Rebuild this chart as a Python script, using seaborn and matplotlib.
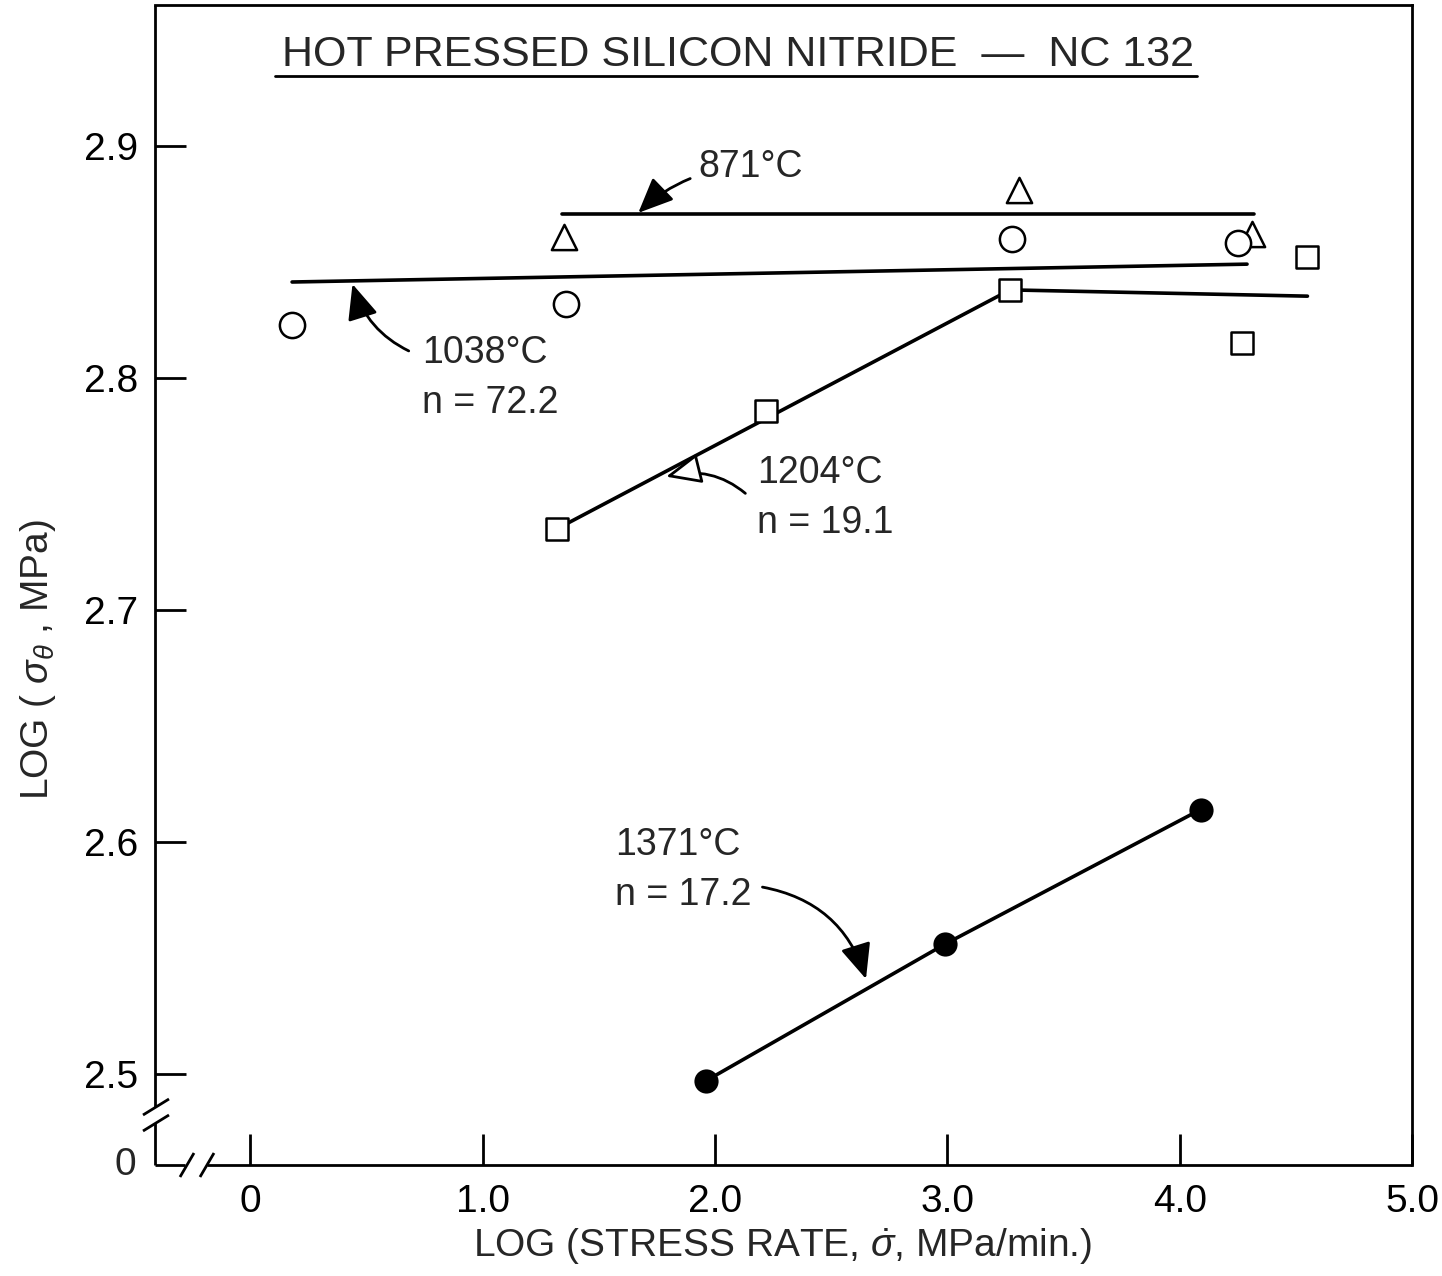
import numpy as np
import pandas as pd
import matplotlib
matplotlib.use("Agg")
import matplotlib.pyplot as plt
import seaborn as sns

# ---- data ----
tri_x = [1.35, 3.31, 4.31]          # 871 C (open triangles)
tri_y = [2.861, 2.881, 2.862]
circ_x = [0.18, 1.36, 3.28, 4.25]   # 1038 C (open circles)
circ_y = [2.823, 2.832, 2.860, 2.858]
sq_x = [1.32, 2.22, 3.27, 4.27, 4.55]   # 1204 C (open squares)
sq_y = [2.735, 2.786, 2.838, 2.815, 2.852]
fil_x = [1.96, 2.99, 4.09]          # 1371 C (filled circles)
fil_y = [2.497, 2.556, 2.614]

fit871_x = [1.34, 4.32]
fit871_y = [2.8707, 2.8707]
fit1038_x = [0.18, 4.29]
fit1038_y = [2.8414, 2.8491]
fit1204_x = [1.32, 3.27, 4.55]
fit1204_y = [2.735, 2.838, 2.8353]
fit1371_x = [1.96, 2.99, 4.09]
fit1371_y = [2.497, 2.556, 2.614]

x_ticks = [0, 1.0, 2.0, 3.0, 4.0, 5.0]
x_labels = ["0", "1.0", "2.0", "3.0", "4.0", "5.0"]
y_ticks = [2.5, 2.6, 2.7, 2.8, 2.9]
y_labels = ["2.5", "2.6", "2.7", "2.8", "2.9"]

sns.set_style("white")
plt.rcParams["font.family"] = ["Liberation Sans", "DejaVu Sans"]
plt.rcParams["mathtext.fontset"] = "custom"
plt.rcParams["mathtext.rm"] = "Liberation Sans"
plt.rcParams["mathtext.it"] = "Liberation Sans:italic"

fig = plt.figure(figsize=(14.42, 12.76), dpi=100)
ax = fig.add_axes([155/1442, 111/1276, 1257/1442, 1160/1276])
XMIN, XMAX, YMIN, YMAX = -0.41, 5.0, 2.4608, 2.9608
ax.set_xlim(XMIN, XMAX)
ax.set_ylim(YMIN, YMAX)

lw = 2.6
# fitted lines
for fx, fy in [(fit871_x, fit871_y), (fit1038_x, fit1038_y),
               (fit1204_x, fit1204_y), (fit1371_x, fit1371_y)]:
    sns.lineplot(x=fx, y=fy, ax=ax, color="black", lw=lw, sort=False,
                 estimator=None, legend=False, zorder=2)

# markers
sns.scatterplot(x=tri_x, y=tri_y, ax=ax, marker="^", s=330, facecolor="white",
                edgecolor="black", linewidth=1.8, zorder=3, legend=False)
sns.scatterplot(x=circ_x, y=circ_y, ax=ax, marker="o", s=330, facecolor="white",
                edgecolor="black", linewidth=1.8, zorder=3, legend=False)
sns.scatterplot(x=sq_x, y=sq_y, ax=ax, marker="s", s=260, facecolor="white",
                edgecolor="black", linewidth=1.8, zorder=3, legend=False)
sns.scatterplot(x=fil_x, y=fil_y, ax=ax, marker="o", s=260, color="black",
                edgecolor="black", zorder=4, legend=False)

# ticks
ax.set_xticks(x_ticks)
ax.set_xticklabels(x_labels)
ax.set_yticks(y_ticks)
ax.set_yticklabels(y_labels)
ax.tick_params(direction="in", length=22, width=2, labelsize=28, pad=12,
               colors="black", bottom=True, left=True, top=False, right=False)
ax.tick_params(axis="x", pad=14)

# spines with axis breaks
for s in ["left", "bottom"]:
    ax.spines[s].set_visible(False)
for s in ["top", "right"]:
    ax.spines[s].set_linewidth(2)
    ax.spines[s].set_color("black")
tr = ax.transAxes
W, H = 1257, 1160
def px(dx, dy):
    return dx / W, dy / H
kw = dict(transform=tr, color="black", lw=2, clip_on=False, solid_capstyle="butt")
# left spine pieces
ax.plot([0, 0], [px(0, 58)[1], 1], **kw)
ax.plot([0, 0], [0, px(0, 42)[1]], **kw)
# bottom spine pieces
ax.plot([0, px(30, 0)[0]], [0, 0], **kw)
ax.plot([px(52, 0)[0], 1], [0, 0], **kw)
# break slashes
for oy in (42, 58):
    ax.plot([px(-12, 0)[0], px(14, 0)[0]], [px(0, oy - 8)[1], px(0, oy + 8)[1]], **kw)
for ox in (32, 52):
    ax.plot([px(ox - 7, 0)[0], px(ox + 7, 0)[0]], [px(0, -12)[1], px(0, 12)[1]], **kw)
ax.text(-0.015, 0.0, "0", transform=tr, ha="right", va="center", fontsize=28)

# title with underline
ax.text(2.10, 2.9392, "HOT PRESSED SILICON NITRIDE  \u2014  NC 132",
        ha="center", va="center", fontsize=31)
ax.plot([0.108, 4.075], [2.9300, 2.9300], color="black", lw=2)

# annotations
fs = 27
ax.annotate("871\u00b0C", xy=(1.67, 2.8712), xytext=(1.93, 2.891),
            fontsize=fs, ha="left", va="center",
            arrowprops=dict(arrowstyle="-|>,head_length=0.8,head_width=0.35",
                            color="black", lw=2, shrinkA=4, shrinkB=0,
                            connectionstyle="arc3,rad=0.2"))
ax.annotate("1038\u00b0C\nn = 72.2", xy=(0.44, 2.8405), xytext=(0.74, 2.800),
            fontsize=fs, ha="left", va="center", linespacing=1.5,
            arrowprops=dict(arrowstyle="-|>,head_length=0.8,head_width=0.35",
                            color="black", lw=2, shrinkA=8, shrinkB=0,
                            relpos=(0, 0.75),
                            connectionstyle="arc3,rad=-0.25"))
ax.annotate("1204\u00b0C\nn = 19.1", xy=(1.79, 2.7575), xytext=(2.18, 2.7485),
            fontsize=fs, ha="left", va="center", linespacing=1.5,
            arrowprops=dict(arrowstyle="-|>,head_length=0.8,head_width=0.35",
                            facecolor="white", edgecolor="black", lw=2,
                            shrinkA=8, shrinkB=0, relpos=(0, 0.42),
                            connectionstyle="arc3,rad=0.3"))
ax.annotate("1371\u00b0C\nn = 17.2", xy=(2.65, 2.541), xytext=(1.57, 2.588),
            fontsize=fs, ha="left", va="center", linespacing=1.5,
            arrowprops=dict(arrowstyle="-|>,head_length=0.8,head_width=0.35",
                            color="black", lw=2, shrinkA=0, shrinkB=0,
                            relpos=(1.08, 0.3),
                            connectionstyle="arc3,rad=-0.3"))

# axis labels
fig.text(783/1442, 1 - 1247/1276, r"LOG (STRESS RATE, $\dot{\sigma}$, MPa/min.)",
         fontsize=28, ha="center", va="center")
fig.text(38/1442, 1 - 660/1276, r"LOG ( $\sigma_\theta$ , MPa)", fontsize=28,
         rotation=90, ha="center", va="center")

fig.savefig("out.png", dpi=100, facecolor="white")
